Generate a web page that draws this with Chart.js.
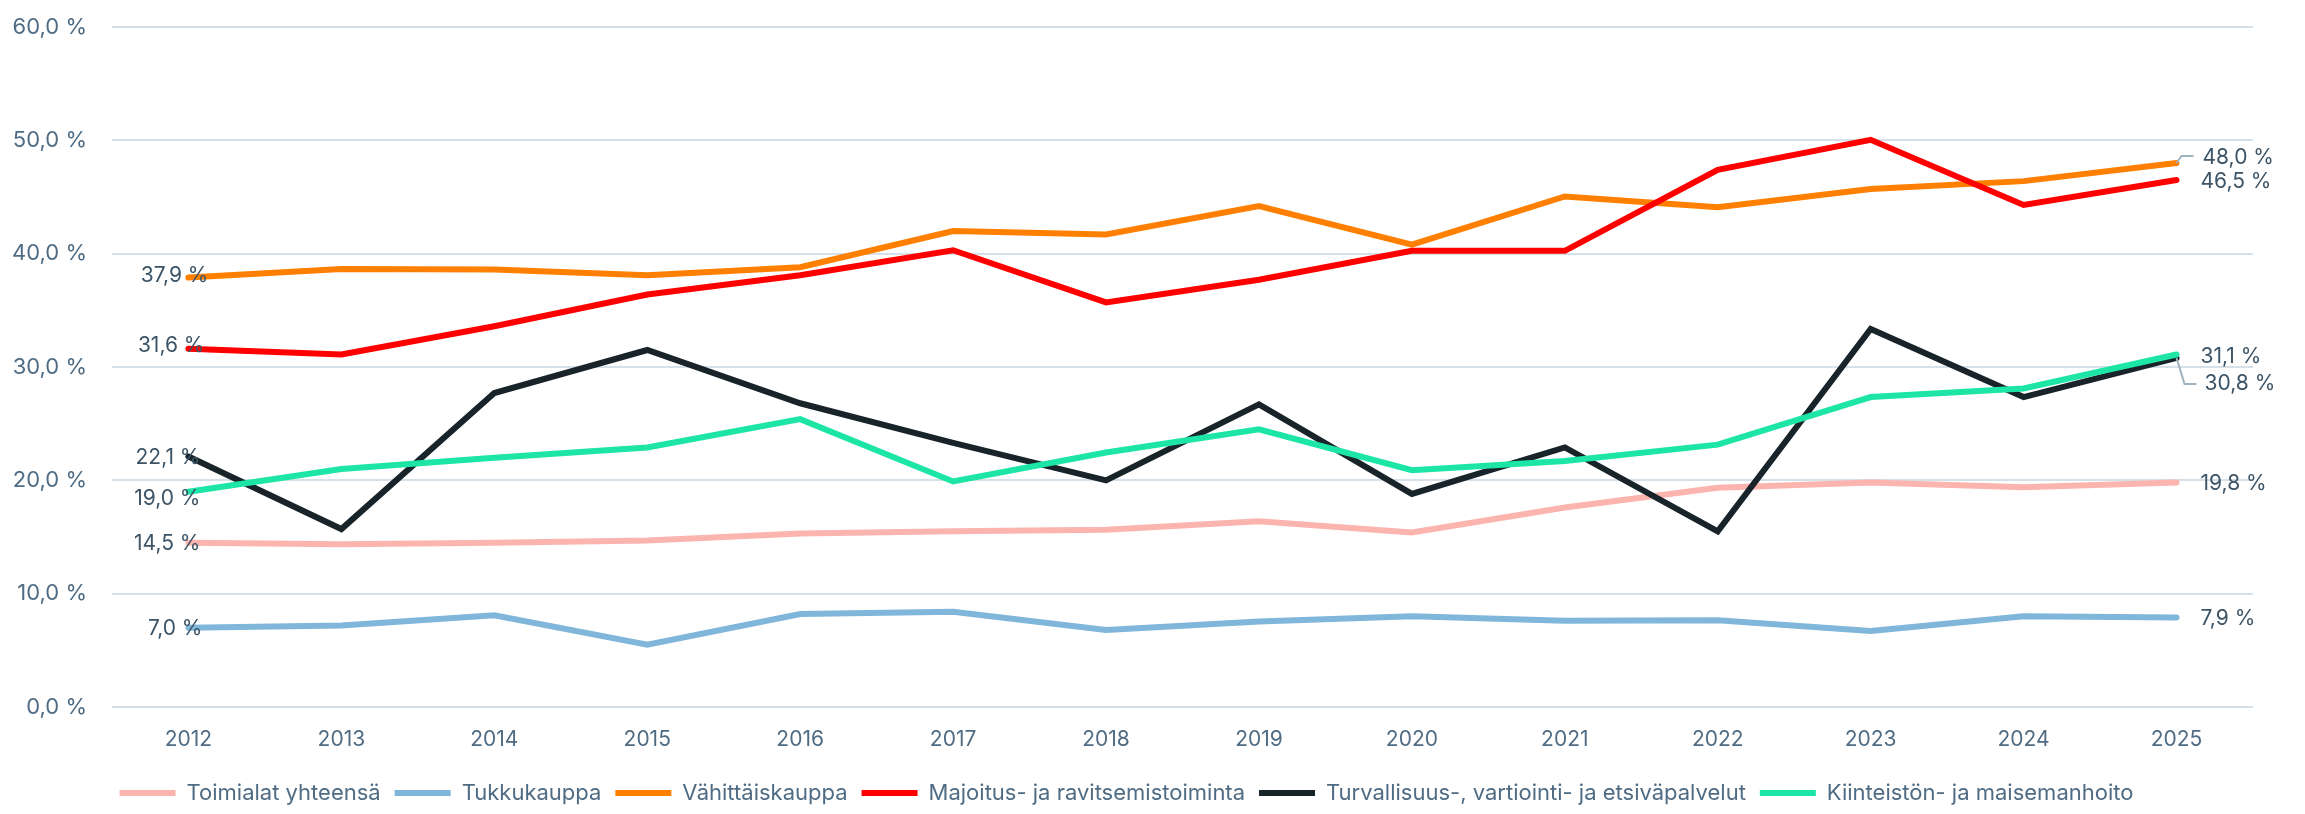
<!DOCTYPE html>
<html>
<head>
<meta charset="utf-8">
<script src="https://cdn.jsdelivr.net/npm/chart.js@4/dist/chart.umd.min.js"></script>
<style>
  html, body { margin: 0; padding: 0; background: #fff; }
</style>
</head>
<body>
<canvas id="graph" width="2305" height="814"></canvas>
<script>
// data
const years = ['2012', '2013', '2014', '2015', '2016', '2017', '2018', '2019', '2020', '2021', '2022', '2023', '2024', '2025'];
const names = ['Toimialat yhteensä', 'Tukkukauppa', 'Vähittäiskauppa', 'Majoitus- ja ravitsemistoiminta', 'Turvallisuus-, vartiointi- ja etsiväpalvelut', 'Kiinteistön- ja maisemanhoito'];
const toimialat = [14.5, 14.35, 14.5, 14.7, 15.3, 15.5, 15.65, 16.4, 15.4, 17.6, 19.35, 19.8, 19.4, 19.8];
const tukku = [7.0, 7.2, 8.1, 5.5, 8.2, 8.4, 6.8, 7.55, 8.0, 7.6, 7.65, 6.7, 8.0, 7.9];
const vahittais = [37.9, 38.65, 38.6, 38.1, 38.8, 42.0, 41.7, 44.2, 40.8, 45.05, 44.1, 45.7, 46.4, 48.0];
const majoitus = [31.6, 31.1, 33.6, 36.4, 38.1, 40.3, 35.7, 37.7, 40.25, 40.25, 47.4, 50.05, 44.3, 46.5];
const turva = [22.1, 15.7, 27.7, 31.5, 26.8, 23.3, 20.0, 26.7, 18.8, 22.9, 15.5, 33.35, 27.35, 30.8];
const kiinteisto = [19.0, 21.0, 22.0, 22.9, 25.4, 19.9, 22.45, 24.5, 20.9, 21.7, 23.15, 27.35, 28.1, 31.1];
const yTicks = [0, 10, 20, 30, 40, 50, 60];

const colors = ['#fbb5ae', '#7fb6da', '#ff7f00', '#ff0000', '#18232a', '#1ce5a6'];
const tickColor = '#4f6c84';
const labelColor = '#3c5466';
const FONT = 'Inter';

// label placement: [first dx, first dy, last dx, last dy, leader]
const labelPos = [
    [12, 1, 24, 1, null],
    [14, 1, 24, 1, null],
    [20, -2, 26, -5, 'up'],
    [16, -3, 24, 2, null],
    [12, 1, 28, 26, 'down'],
    [12, 7, 24, 2, null]
];

const fmt = v => v.toFixed(1).replace('.', ',') + ' %';

const endLabels = {
    id: 'endLabels',
    afterDatasetsDraw(chart) {
        const ctx = chart.ctx;
        ctx.save();
        ctx.font = '21px ' + FONT;
        ctx.textBaseline = 'middle';
        chart.data.datasets.forEach((ds, i) => {
            const pts = chart.getDatasetMeta(i).data;
            const a = pts[0], b = pts[pts.length - 1];
            const p = labelPos[i];
            ctx.fillStyle = labelColor;
            ctx.textAlign = 'right';
            ctx.fillText(fmt(ds.data[0]), a.x + p[0], a.y + p[1]);
            ctx.textAlign = 'left';
            ctx.fillText(fmt(ds.data[ds.data.length - 1]), b.x + p[2], b.y + p[3]);
            if (p[4]) {
                ctx.strokeStyle = '#9fb2c0';
                ctx.lineWidth = 2;
                ctx.beginPath();
                ctx.moveTo(b.x, b.y);
                if (p[4] === 'up') {
                    ctx.lineTo(b.x + 5, b.y + p[3] - 2);
                    ctx.lineTo(b.x + 17, b.y + p[3] - 2);
                } else {
                    ctx.lineTo(b.x + 8, b.y + p[3]);
                    ctx.lineTo(b.x + 20, b.y + p[3]);
                }
                ctx.stroke();
            }
        });
        ctx.restore();
    }
};

const series = [toimialat, tukku, vahittais, majoitus, turva, kiinteisto];

new Chart(document.getElementById('graph'), {
    type: 'line',
    data: {
        labels: years,
        datasets: series.map((s, i) => ({
            label: names[i],
            data: s,
            borderColor: colors[i],
            backgroundColor: colors[i],
            borderWidth: 6,
            borderCapStyle: 'round',
            borderJoinStyle: 'miter',
            pointRadius: 0,
            tension: 0,
            order: series.length - i
        }))
    },
    options: {
        responsive: false,
        animation: false,
        layout: { padding: { left: 0, right: 52, top: 27, bottom: 0 } },
        plugins: {
            legend: {
                position: 'bottom',
                labels: {
                    sort: (a, b) => a.datasetIndex - b.datasetIndex,
                    usePointStyle: true,
                    pointStyle: 'line',
                    pointStyleWidth: 56,
                    padding: 14,
                    color: tickColor,
                    font: { family: FONT, size: 22 }
                }
            },
            tooltip: { enabled: false }
        },
        scales: {
            x: {
                offset: true,
                grid: { display: false, drawTicks: false },
                border: { display: false },
                ticks: { color: tickColor, font: { family: FONT, size: 21 }, padding: 20, maxRotation: 0 },
                afterFit: s => { s.height = 61; }
            },
            y: {
                min: 0,
                max: 60,
                afterBuildTicks: s => { s.ticks = yTicks.map(v => ({ value: v })); },
                grid: { color: '#d6e0e8', lineWidth: 2, drawTicks: false },
                border: { display: false },
                ticks: {
                    color: tickColor,
                    font: { family: FONT, size: 22 },
                    padding: 25,
                    callback: v => fmt(v)
                },
                afterFit: s => { s.width = 112; s.paddingTop = 12; s.paddingBottom = 12; }
            }
        }
    },
    plugins: [endLabels]
});
</script>
</body>
</html>
